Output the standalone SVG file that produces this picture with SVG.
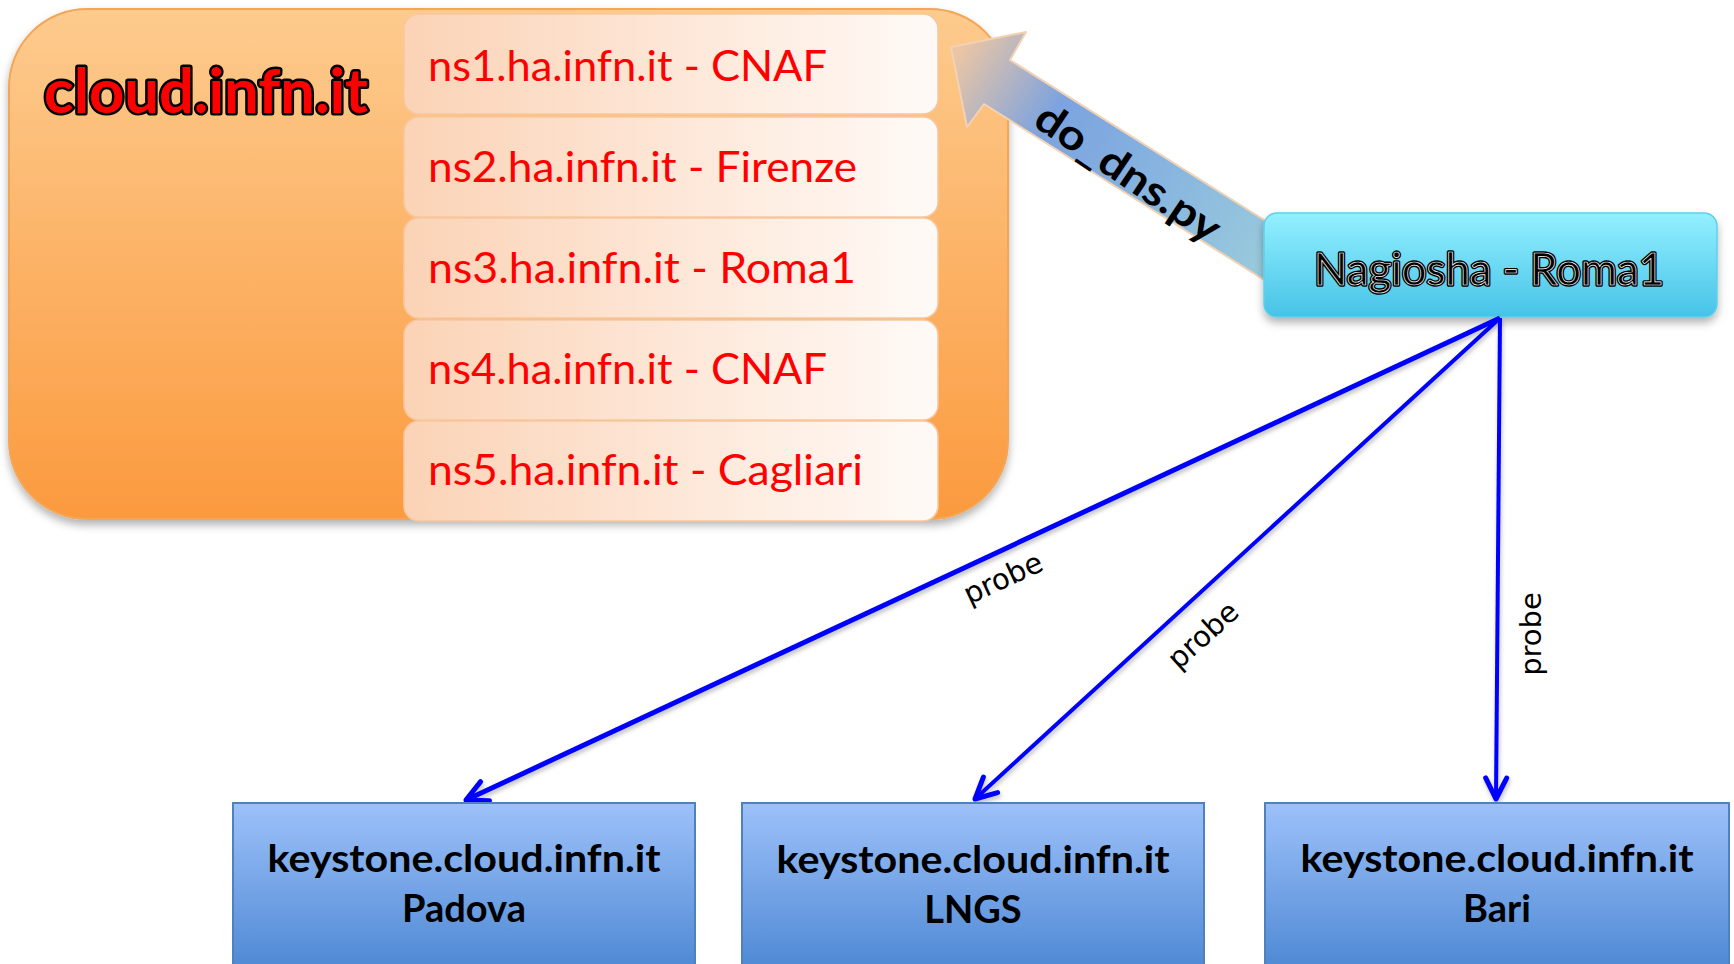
<svg xmlns="http://www.w3.org/2000/svg" width="1734" height="964" viewBox="0 0 1734 964">
<defs>
  <linearGradient id="gOrange" x1="0" y1="0" x2="0" y2="1">
    <stop offset="0" stop-color="#fdcb8e"/>
    <stop offset="1" stop-color="#fb9a3e"/>
  </linearGradient>
  <linearGradient id="gNs" x1="0" y1="0" x2="1" y2="0">
    <stop offset="0" stop-color="#fbd3b6"/>
    <stop offset="1" stop-color="#fffaf7"/>
  </linearGradient>
  <linearGradient id="gCyan" x1="0" y1="0" x2="0" y2="1">
    <stop offset="0" stop-color="#93f0ff"/>
    <stop offset="1" stop-color="#47c3e8"/>
  </linearGradient>
  <linearGradient id="gBlue" x1="0" y1="0" x2="0" y2="1">
    <stop offset="0" stop-color="#9dc1fa"/>
    <stop offset="1" stop-color="#4a86d2"/>
  </linearGradient>
  <linearGradient id="gArrow" gradientUnits="userSpaceOnUse" x1="1275" y1="262" x2="955" y2="55">
    <stop offset="0" stop-color="#9acbdd"/>
    <stop offset="0.45" stop-color="#84b0df"/>
    <stop offset="0.7" stop-color="#7ca3df"/>
    <stop offset="1" stop-color="#ecc6a4"/>
  </linearGradient>
  <filter id="shadow" x="-10%" y="-10%" width="120%" height="130%">
    <feDropShadow dx="0" dy="5" stdDeviation="4" flood-color="#000" flood-opacity="0.3"/>
  </filter>
  <filter id="lshadow" x="-10%" y="-10%" width="120%" height="120%">
    <feDropShadow dx="1" dy="3" stdDeviation="2" flood-color="#000" flood-opacity="0.25"/>
  </filter>
  <marker id="chev" markerUnits="userSpaceOnUse" markerWidth="40" markerHeight="40" viewBox="-30 -20 40 40" refX="0" refY="0" orient="auto">
    <path d="M-21,-10.5 L0,0 L-21,10.5" fill="none" stroke="#0000ff" stroke-width="5" stroke-linecap="round" stroke-linejoin="round"/>
  </marker>
  <style>
    .ns { font-family: Lato, "Liberation Sans", sans-serif; font-size: 42px; fill: #ff0000; }
    .ks { font-family: Lato, "Liberation Sans", sans-serif; font-size: 38px; font-weight: bold; fill: #000; text-anchor: middle; }
    .probe { font-family: "DejaVu Sans", Verdana, sans-serif; font-size: 29px; fill: #000; text-anchor: middle; }
    .nsbox { fill: url(#gNs); stroke: #f6c7a0; stroke-width: 1.5; }
    .kbox { fill: url(#gBlue); stroke: #4f81bd; stroke-width: 2; }
    .conn { stroke: #0000ff; fill: none; marker-end: url(#chev); }
  </style>
</defs>
<rect width="1734" height="964" fill="#ffffff"/>

<g id="cloud">
  <rect x="9" y="9" width="999" height="510" rx="78" ry="78" fill="url(#gOrange)" stroke="#f3a657" stroke-width="2" filter="url(#shadow)"/>
  <text x="44" y="113" font-family="Lato, 'Liberation Sans', sans-serif" font-size="62" font-weight="bold" fill="#ff0000" stroke="#000" stroke-width="5" paint-order="stroke" stroke-linejoin="round" textLength="324" lengthAdjust="spacingAndGlyphs">cloud.infn.it</text>
</g>

<g id="ns1">
  <rect class="nsbox" x="404" y="14" width="534" height="100" rx="15"/>
  <text class="ns" x="428" y="81" textLength="399" lengthAdjust="spacingAndGlyphs">ns1.ha.infn.it - CNAF</text>
</g>
<g id="ns2">
  <rect class="nsbox" x="404" y="117" width="534" height="100" rx="15"/>
  <text class="ns" x="428" y="182" textLength="429" lengthAdjust="spacingAndGlyphs">ns2.ha.infn.it - Firenze</text>
</g>
<g id="ns3">
  <rect class="nsbox" x="404" y="218" width="534" height="100" rx="15"/>
  <text class="ns" x="428" y="283" textLength="428" lengthAdjust="spacingAndGlyphs">ns3.ha.infn.it - Roma1</text>
</g>
<g id="ns4">
  <rect class="nsbox" x="404" y="320" width="534" height="100" rx="15"/>
  <text class="ns" x="428" y="384" textLength="399" lengthAdjust="spacingAndGlyphs">ns4.ha.infn.it - CNAF</text>
</g>
<g id="ns5">
  <rect class="nsbox" x="404" y="421" width="534" height="100" rx="15"/>
  <text class="ns" x="428" y="485" textLength="435" lengthAdjust="spacingAndGlyphs">ns5.ha.infn.it - Cagliari</text>
</g>

<g id="do_dns_arrow">
  <polygon points="951,47 1026,32 1010,60 1285,233 1285,293 984,104 967,127" fill="url(#gArrow)" stroke="#f2d2b4" stroke-width="2" stroke-linejoin="round"/>
  <text transform="translate(1128,173) rotate(34)" x="0" y="14" font-family="Lato, 'Liberation Sans', sans-serif" font-size="42" font-weight="bold" fill="#000" text-anchor="middle" textLength="214" lengthAdjust="spacingAndGlyphs">do_dns.py</text>
</g>

<g id="nagiosha">
  <rect x="1264" y="213" width="453" height="104" rx="13" fill="url(#gCyan)" stroke="#5fcfe9" stroke-width="1.5" filter="url(#shadow)"/>
  <text x="1489" y="285" font-family="Lato, 'Liberation Sans', sans-serif" font-size="44" fill="#000" stroke="#000" stroke-width="3.5" stroke-linejoin="round" text-anchor="middle" textLength="350" lengthAdjust="spacingAndGlyphs">Nagiosha - Roma1</text>
  <text x="1489" y="285" font-family="Lato, 'Liberation Sans', sans-serif" font-size="44" fill="#000" stroke="#fff" stroke-width="0.7" stroke-linejoin="round" text-anchor="middle" textLength="350" lengthAdjust="spacingAndGlyphs">Nagiosha - Roma1</text>
</g>

<g id="connectors" filter="url(#lshadow)">
  <line class="conn" x1="1500" y1="318" x2="466" y2="800" stroke-width="5"/>
  <line class="conn" x1="1500" y1="318" x2="975" y2="799" stroke-width="4"/>
  <line class="conn" x1="1500" y1="318" x2="1496" y2="799" stroke-width="4"/>
</g>
<g id="probe-labels">
  <text class="probe" transform="translate(1003,578) rotate(-25)" x="0" y="10">probe</text>
  <text class="probe" transform="translate(1203,635) rotate(-42)" x="0" y="10">probe</text>
  <text class="probe" transform="translate(1531,634) rotate(-90)" x="0" y="10">probe</text>
</g>

<g id="padova">
  <rect class="kbox" x="233" y="803" width="462" height="175"/>
  <text class="ks" x="464" y="872" textLength="393" lengthAdjust="spacingAndGlyphs">keystone.cloud.infn.it</text>
  <text class="ks" x="464" y="922">Padova</text>
</g>
<g id="lngs">
  <rect class="kbox" x="742" y="803" width="462" height="175"/>
  <text class="ks" x="973" y="873" textLength="393" lengthAdjust="spacingAndGlyphs">keystone.cloud.infn.it</text>
  <text class="ks" x="973" y="923">LNGS</text>
</g>
<g id="bari">
  <rect class="kbox" x="1265" y="803" width="464" height="175"/>
  <text class="ks" x="1497" y="872" textLength="393" lengthAdjust="spacingAndGlyphs">keystone.cloud.infn.it</text>
  <text class="ks" x="1497" y="922">Bari</text>
</g>
</svg>
